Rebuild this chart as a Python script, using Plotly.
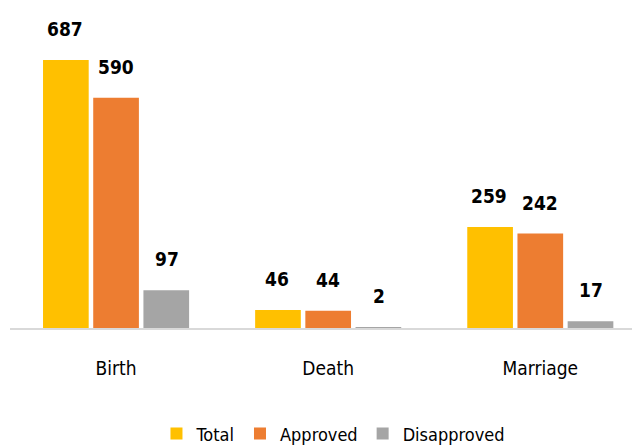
import plotly.graph_objects as go

categories = ["Birth", "Death", "Marriage"]
series_names = ["Total", "Approved", "Disapproved"]
total = [687, 46, 259]
approved = [590, 44, 242]
disapproved = [97, 2, 17]
colors = ["#FFC000", "#ED7D31", "#A5A5A5"]

FONT = "DejaVu Sans Condensed, DejaVu Sans, sans-serif"
values = [total, approved, disapproved]

fig = go.Figure()
for name, vals, col in zip(series_names, values, colors):
    fig.add_trace(go.Bar(x=categories, y=vals, name=name, marker_color=col,
                         marker_line_width=0))

# value labels above bars
slot = 51
annotations = []
for i, vals in enumerate(values):
    for c, v in zip(categories, vals):
        annotations.append(dict(x=c, y=v, xref="x", yref="y", text=str(v),
                                showarrow=False, yanchor="bottom",
                                xshift=(i - 1) * slot, yshift=18,
                                font=dict(family=FONT, size=19, color="#000000",
                                          weight="bold")))

fig.update_layout(
    width=632, height=439,
    margin=dict(l=2, r=0, t=0, b=119, autoexpand=False),
    paper_bgcolor="white", plot_bgcolor="white",
    barmode="group", bargap=0.29, bargroupgap=0.09,
    showlegend=True,
    legend=dict(orientation="h", x=0.515, xanchor="center", xref="container",
                y=0.03, yanchor="middle", yref="container",
                font=dict(family=FONT, size=18, color="#000000"),
                itemwidth=30, tracegroupgap=0),
    annotations=annotations,
    xaxis=dict(showline=True, linecolor="#D9D9D9", linewidth=2,
               showgrid=False, ticks="", ticklabelstandoff=22,
               range=[-0.5, 2.47],
               tickfont=dict(family=FONT, size=19, color="#000000")),
    yaxis=dict(visible=False, range=[0, 820]),
)

fig.write_html("out.html")
